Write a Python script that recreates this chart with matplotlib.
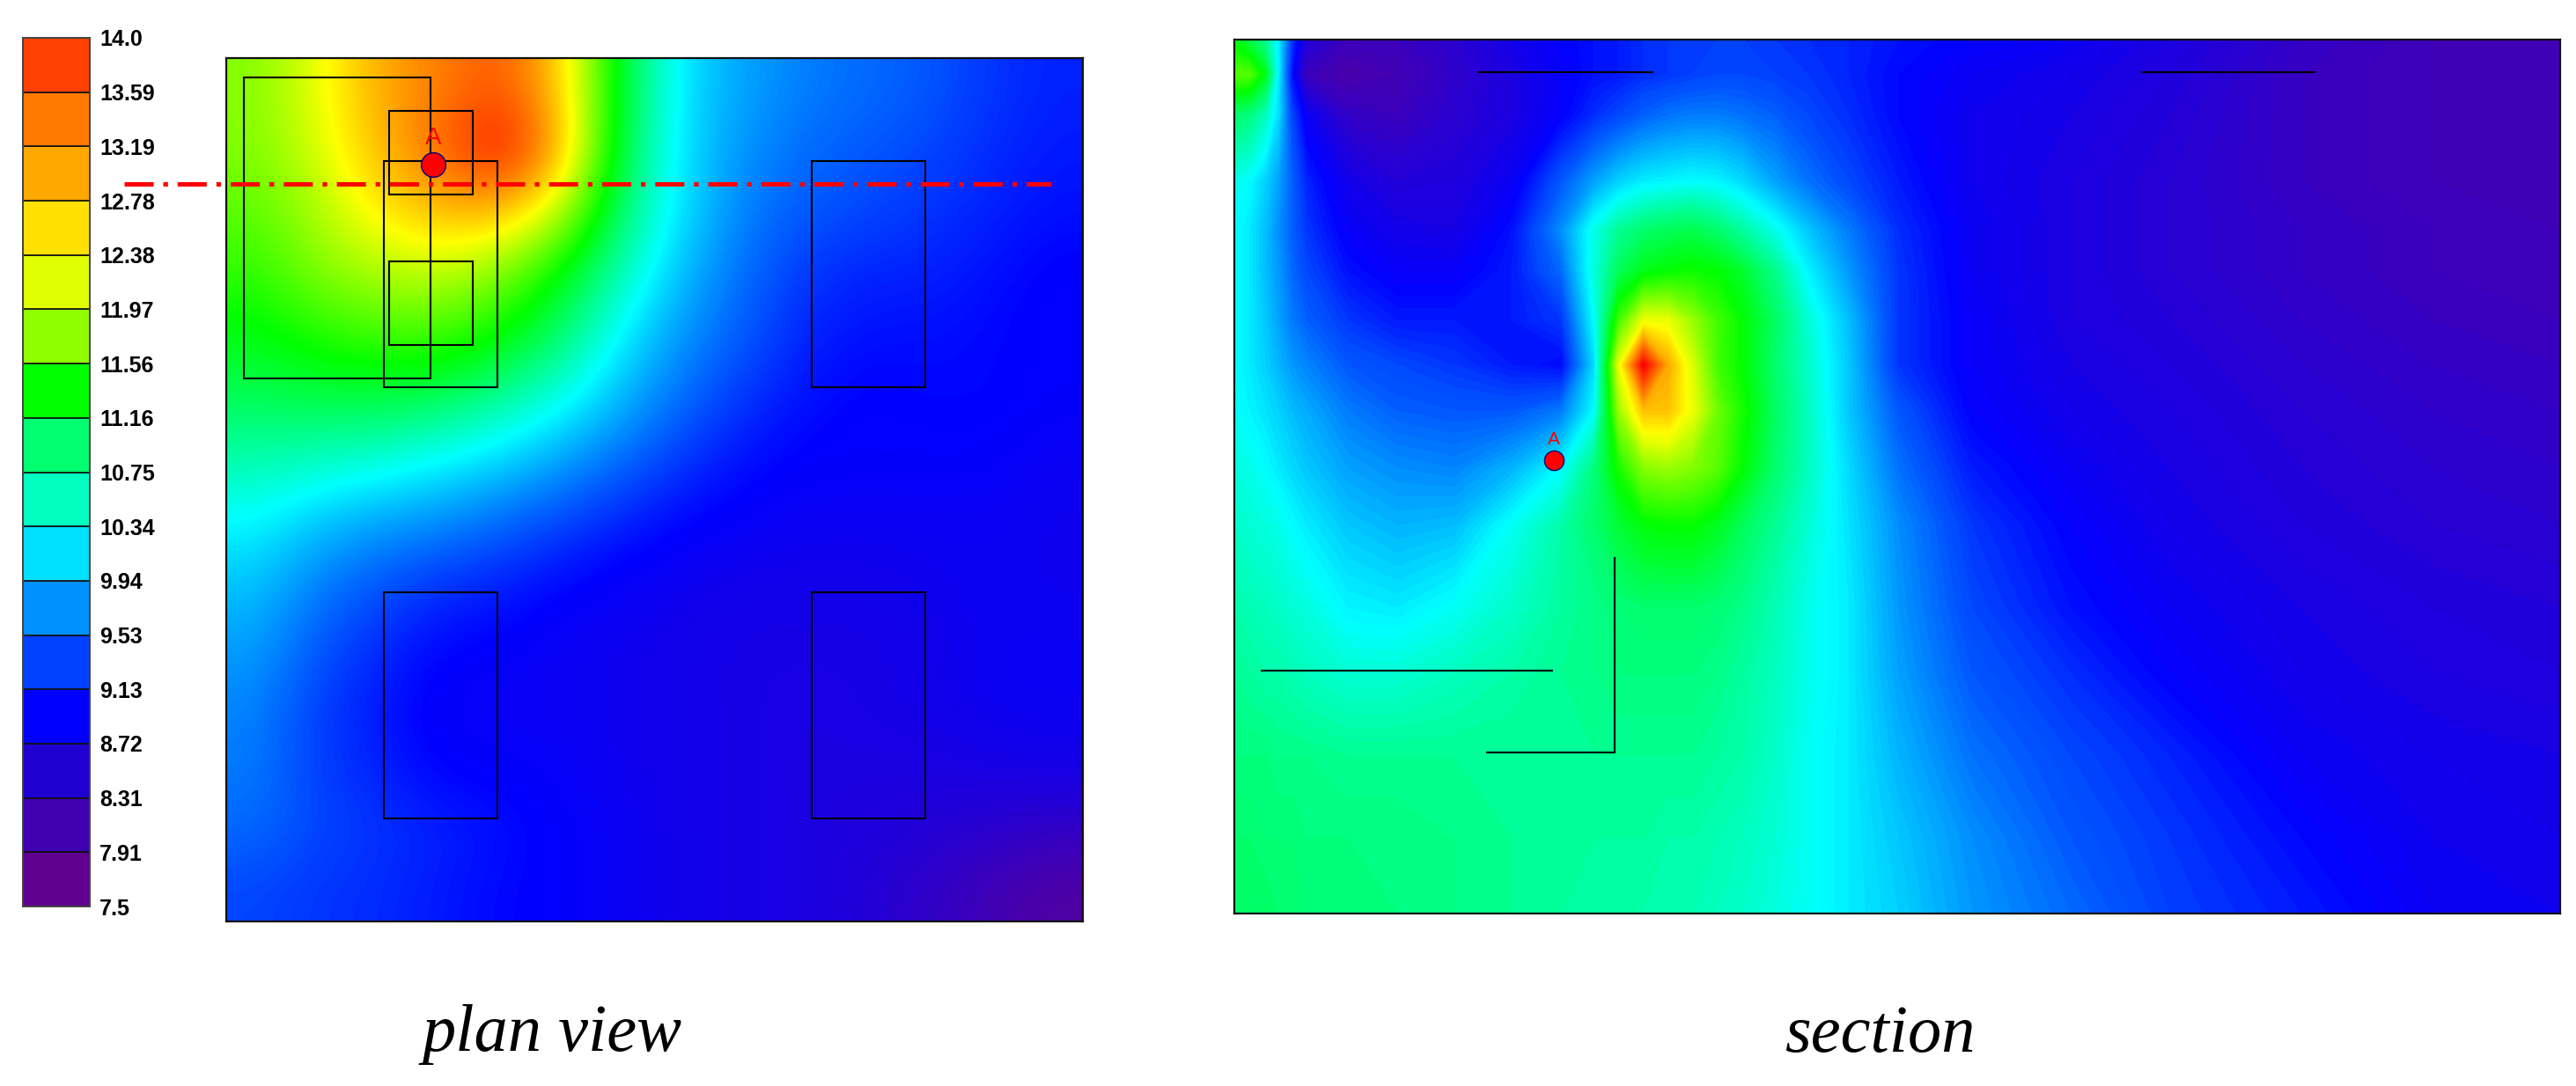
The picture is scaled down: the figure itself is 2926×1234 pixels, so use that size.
import matplotlib
matplotlib.use("Agg")
import matplotlib.pyplot as plt
from matplotlib.colors import LinearSegmentedColormap, Normalize
from matplotlib.patches import Rectangle
import numpy as np

plt.rcParams["lines.scale_dashes"] = False

W, H = 2926, 1234

# colour scale
legend_labels = ["7.5", "7.91", "8.31", "8.72", "9.13", "9.53", "9.94", "10.34", "10.75",
                 "11.16", "11.56", "11.97", "12.38", "12.78", "13.19", "13.59", "14.0"]
legend_colors = ["#600090", "#4000b0", "#2000d0", "#0000ff", "#0040ff", "#0090ff", "#00e0ff", "#00ffc0",
                 "#00ff70", "#00ff00", "#90ff00", "#e0ff00", "#ffe000", "#ffa800", "#ff7800", "#ff4000"]
scale_values = [7.5, 8.72, 10.1, 11.3, 12.5, 14.0]
scale_colors = ["#600090", "#0000ff", "#00ffff", "#00ff00", "#ffff00", "#ff0000"]

# plan view: readings on a regular grid, top row first
plan_values = [
    [11.9, 12.4, 13.0, 13.25, 13.5, 12.8, 11.0, 9.9, 9.6, 9.4, 9.3, 9.2, 9.0, 8.9],
    [11.9, 12.3, 12.9, 13.4, 14.0, 13.0, 10.9, 9.9, 9.5, 9.3, 9.2, 9.1, 8.95, 8.85],
    [11.7, 12.1, 12.6, 12.9, 12.9, 12.2, 10.7, 9.9, 9.4, 9.2, 9.1, 9.0, 8.9, 8.8],
    [11.5, 11.9, 12.1, 12.2, 11.9, 11.2, 10.4, 9.7, 9.3, 9.0, 8.9, 8.9, 8.8, 8.7],
    [11.2, 11.45, 11.6, 11.6, 11.3, 10.8, 10.0, 9.5, 9.2, 8.9, 8.8, 8.8, 8.75, 8.7],
    [10.9, 11.0, 11.0, 10.9, 10.6, 10.2, 9.7, 9.3, 9.0, 8.8, 8.7, 8.75, 8.75, 8.7],
    [10.5, 10.4, 10.3, 10.1, 9.9, 9.6, 9.3, 9.0, 8.8, 8.7, 8.7, 8.7, 8.7, 8.6],
    [10.1, 9.8, 9.6, 9.5, 9.3, 9.1, 8.9, 8.75, 8.65, 8.6, 8.6, 8.6, 8.6, 8.55],
    [9.8, 9.4, 9.2, 9.0, 8.9, 8.75, 8.65, 8.55, 8.5, 8.5, 8.5, 8.55, 8.6, 8.55],
    [9.6, 9.2, 8.95, 8.75, 8.7, 8.6, 8.55, 8.5, 8.45, 8.45, 8.45, 8.5, 8.6, 8.6],
    [9.45, 9.05, 8.85, 8.65, 8.6, 8.6, 8.55, 8.5, 8.45, 8.4, 8.45, 8.5, 8.6, 8.6],
    [9.4, 9.05, 8.9, 8.7, 8.7, 8.65, 8.55, 8.5, 8.45, 8.4, 8.4, 8.4, 8.45, 8.5],
    [9.3, 9.1, 9.0, 8.9, 8.8, 8.7, 8.6, 8.5, 8.45, 8.4, 8.35, 8.3, 8.2, 8.1],
    [9.1, 9.0, 8.95, 8.85, 8.75, 8.7, 8.6, 8.5, 8.45, 8.4, 8.3, 8.1, 7.9, 7.7],
]

# section: readings on an uneven grid
section_x = [0, 9, 19, 27, 35, 44, 69, 99, 134, 169, 199, 219, 234, 249, 264, 279, 294, 309, 329, 349,
             374, 404, 449, 509, 569, 649, 729, 807]
section_y = [0, 21, 46, 86, 116, 141, 171, 198, 226, 261, 296, 346, 386, 436, 486, 532]
section_values = [
    [11.2, 11.0, 10.6, 10.0, 9.0, 8.3, 8.0, 8.0, 8.2, 8.5, 8.7, 8.8, 8.85, 8.95, 9.0, 9.05, 9.05, 9.05, 9.0, 8.95, 8.9, 8.8, 8.7, 8.6, 8.4, 8.1, 7.95, 7.9],
    [11.7, 11.7, 11.2, 10.0, 8.8, 8.0, 7.8, 7.9, 8.15, 8.4, 8.65, 8.8, 8.85, 8.95, 9.0, 9.05, 9.1, 9.1, 9.05, 9.0, 8.9, 8.75, 8.6, 8.5, 8.35, 8.05, 7.95, 7.9],
    [10.8, 10.7, 10.4, 9.9, 9.1, 8.6, 8.1, 8.0, 8.2, 8.4, 8.7, 8.95, 9.1, 9.25, 9.35, 9.4, 9.4, 9.35, 9.25, 9.1, 8.95, 8.75, 8.55, 8.45, 8.3, 8.05, 7.95, 7.9],
    [10.2, 10.1, 9.85, 9.6, 9.25, 8.9, 8.5, 8.3, 8.35, 8.6, 9.2, 9.6, 9.85, 10.0, 10.05, 10.1, 10.05, 9.9, 9.6, 9.35, 9.1, 8.85, 8.55, 8.4, 8.25, 8.05, 7.95, 7.9],
    [10.1, 10.0, 9.75, 9.5, 9.25, 9.0, 8.65, 8.5, 8.45, 8.8, 9.5, 10.2, 10.6, 10.8, 10.9, 10.95, 10.8, 10.55, 10.2, 9.8, 9.4, 8.95, 8.6, 8.4, 8.25, 8.1, 8.0, 7.95],
    [10.1, 10.0, 9.75, 9.55, 9.3, 9.1, 8.8, 8.65, 8.65, 8.85, 9.3, 10.25, 10.9, 11.2, 11.3, 11.35, 11.3, 11.1, 10.65, 10.05, 9.55, 9.0, 8.6, 8.4, 8.25, 8.1, 8.0, 7.95],
    [10.1, 10.0, 9.8, 9.6, 9.4, 9.25, 9.0, 8.85, 8.85, 8.85, 9.0, 10.1, 11.6, 12.4, 12.4, 12.0, 11.6, 11.3, 10.85, 10.3, 9.75, 9.0, 8.65, 8.4, 8.3, 8.15, 8.05, 8.0],
    [10.1, 10.0, 9.85, 9.7, 9.55, 9.45, 9.2, 9.1, 9.0, 8.85, 8.75, 9.9, 12.4, 14.0, 13.0, 12.3, 11.6, 11.3, 10.8, 10.35, 9.8, 9.0, 8.65, 8.45, 8.35, 8.2, 8.1, 8.05],
    [10.15, 10.05, 9.95, 9.85, 9.75, 9.65, 9.4, 9.25, 9.2, 9.2, 9.4, 10.1, 12.0, 12.85, 12.85, 12.4, 11.8, 11.4, 10.85, 10.4, 9.8, 9.2, 8.7, 8.5, 8.4, 8.25, 8.15, 8.1],
    [10.25, 10.2, 10.1, 10.0, 9.9, 9.8, 9.6, 9.5, 9.45, 9.7, 10.1, 10.7, 11.4, 11.9, 12.0, 11.9, 11.7, 11.3, 10.8, 10.4, 9.9, 9.35, 8.85, 8.6, 8.45, 8.3, 8.2, 8.15],
    [10.35, 10.3, 10.25, 10.2, 10.1, 10.0, 9.8, 9.7, 9.75, 10.15, 10.5, 10.8, 11.05, 11.25, 11.3, 11.3, 11.15, 10.9, 10.6, 10.3, 9.95, 9.5, 9.0, 8.7, 8.5, 8.35, 8.25, 8.2],
    [10.5, 10.45, 10.4, 10.35, 10.3, 10.25, 10.05, 10.0, 10.15, 10.35, 10.55, 10.65, 10.75, 10.8, 10.8, 10.8, 10.75, 10.65, 10.45, 10.2, 10.0, 9.55, 9.1, 8.8, 8.6, 8.45, 8.35, 8.3],
    [10.6, 10.55, 10.5, 10.5, 10.45, 10.4, 10.3, 10.3, 10.4, 10.5, 10.6, 10.65, 10.7, 10.7, 10.7, 10.7, 10.65, 10.55, 10.4, 10.2, 10.0, 9.6, 9.2, 8.95, 8.7, 8.5, 8.4, 8.35],
    [10.7, 10.7, 10.7, 10.65, 10.65, 10.65, 10.6, 10.6, 10.6, 10.6, 10.6, 10.6, 10.6, 10.6, 10.6, 10.6, 10.55, 10.5, 10.35, 10.15, 10.0, 9.7, 9.35, 9.1, 8.9, 8.6, 8.5, 8.45],
    [10.8, 10.8, 10.75, 10.75, 10.75, 10.7, 10.7, 10.7, 10.65, 10.6, 10.6, 10.55, 10.55, 10.55, 10.5, 10.5, 10.45, 10.4, 10.3, 10.15, 10.0, 9.8, 9.5, 9.2, 9.0, 8.75, 8.55, 8.5],
    [10.85, 10.85, 10.85, 10.8, 10.8, 10.75, 10.75, 10.7, 10.65, 10.6, 10.55, 10.55, 10.5, 10.5, 10.5, 10.45, 10.4, 10.35, 10.25, 10.15, 10.0, 9.85, 9.55, 9.3, 9.05, 8.85, 8.6, 8.55],
]

# outlines in plan view, as x0, y0, x1, y1 from the frame's top left
plan_rects = [
    (20, 22, 232, 364),
    (185, 60, 280, 155),
    (179, 117, 308, 374),
    (185, 231, 280, 326),
    (665, 117, 794, 374),
    (179, 607, 308, 864),
    (665, 607, 794, 864),
]
plan_point = (235, 121)
plan_cut_x = [-116, 937]
plan_cut_y = 143

# outlines in section
section_lines_x = [[278, 475], [1031, 1227], [31, 361], [287, 432, 432]]
section_lines_y = [[37, 37], [37, 37], [717, 717], [810, 810, 589]]
section_point = (363, 478)


def px_axes(fig, x0, y0, x1, y1):
    return fig.add_axes([x0 / W, 1 - y1 / H, (x1 - x0) / W, (y1 - y0) / H])


def style_frame(ax):
    ax.set_xticks([])
    ax.set_yticks([])
    for spine in ax.spines.values():
        spine.set_linewidth(1.6)
        spine.set_color("#111111")


def draw_point(ax, point, size, font):
    ax.plot(*point, "o", ms=size, mfc="#ff0000", mec="#000080", mew=1.0, zorder=6)
    ax.annotate("A", point, xytext=(0, size * 0.62), textcoords="offset points", color="#ff0000",
                fontsize=font, ha="center", va="bottom", family="Liberation Sans", zorder=6)


cmap = LinearSegmentedColormap.from_list(
    "field", [((v - 7.5) / 6.5, c) for v, c in zip(scale_values, scale_colors)])
norm = Normalize(7.5, 14.0)

fig = plt.figure(figsize=(W / 100, H / 100), dpi=100, facecolor="white")

# legend
ax_leg = px_axes(fig, 26, 43, 102, 1030)
ax_leg.bar([0] * len(legend_colors), [1] * len(legend_colors), bottom=range(len(legend_colors)),
           width=1, color=legend_colors, edgecolor="#111111", linewidth=1.2)
ax_leg.set_xlim(-0.5, 0.5)
ax_leg.set_ylim(0, len(legend_colors))
ax_leg.set_xticks([])
ax_leg.yaxis.tick_right()
ax_leg.set_yticks(range(len(legend_labels)), legend_labels, fontsize=18, fontweight="bold",
                  family="Liberation Sans")
ax_leg.tick_params(axis="y", length=0, pad=8)
for spine in ax_leg.spines.values():
    spine.set_linewidth(1.4)
    spine.set_color("#444444")

# plan view
ax_plan = px_axes(fig, 257, 66, 1230, 1047)
ax_plan.imshow(plan_values, cmap=cmap, norm=norm, interpolation="bicubic", aspect="auto",
               extent=(0, 973, 981, 0))
for x0, y0, x1, y1 in plan_rects:
    ax_plan.add_patch(Rectangle((x0, y0), x1 - x0, y1 - y0, fill=False, ec="black", lw=1.5, zorder=3))
ax_plan.plot(plan_cut_x, [plan_cut_y, plan_cut_y], color="#ff0000", lw=3.6, clip_on=False, zorder=4,
             linestyle=(0, (23.8, 7.9, 3.8, 7.9)), dash_capstyle="butt")
draw_point(ax_plan, plan_point, 20, 20)
ax_plan.set_xlim(0, 973)
ax_plan.set_ylim(981, 0)
style_frame(ax_plan)

# section
ax_sec = px_axes(fig, 1402, 45, 2908, 1038)
ax_sec.contourf(np.array(section_x) * 1506 / 807, np.array(section_y) * 993 / 532, section_values,
                levels=np.linspace(7.5, 14.0, 131), cmap=cmap, norm=norm, antialiased=False)
for xs, ys in zip(section_lines_x, section_lines_y):
    ax_sec.plot(xs, ys, color="black", lw=1.5, zorder=3, solid_joinstyle="miter")
draw_point(ax_sec, section_point, 16, 15)
ax_sec.set_xlim(0, 1506)
ax_sec.set_ylim(993, 0)
style_frame(ax_sec)

for x, label in [(627, "plan view"), (2135, "section")]:
    fig.text(x / W, 1 - 1176 / H, label, fontsize=55, style="italic", family="Liberation Serif",
             ha="center", va="center", color="black")

fig.savefig("out.png", dpi=100)
